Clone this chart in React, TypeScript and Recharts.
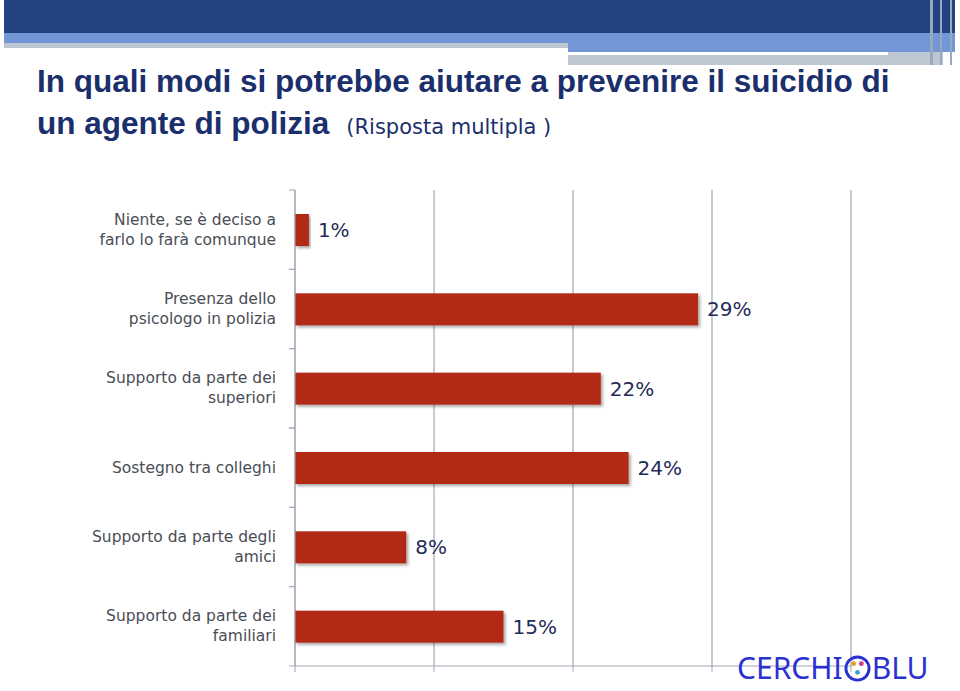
import React from "react"
import { BarChart, Bar, XAxis, YAxis, CartesianGrid, LabelList } from "recharts"

const CATEGORIES = [
	"Niente, se è deciso a\nfarlo lo farà comunque",
	"Presenza dello\npsicologo in polizia",
	"Supporto da parte dei\nsuperiori",
	"Sostegno tra colleghi",
	"Supporto da parte degli\namici",
	"Supporto da parte dei\nfamiliari"
]
const VALUES = [1, 29, 22, 24, 8, 15]
const X_TICKS = [0, 10, 20, 30, 40]

const data = CATEGORIES.map((name, i) => ({ name, value: VALUES[i] }))

const W = 960
const H = 691
const TOP = 190
const BOTTOM = 666
const BAND = (BOTTOM - TOP) / CATEGORIES.length
const AXIS = "#a3a7b4"
const TITLE = "#1a2f6b"

function CategoryTick({ x, y, payload }: any) {
	const lines = String(payload.value).split("\n")
	const lh = 20
	const start = y - ((lines.length - 1) * lh) / 2
	return (
		<g>
			<line x1={x + 2} x2={x + 8} y1={y - BAND / 2} y2={y - BAND / 2} stroke={AXIS} />
			<line x1={x + 2} x2={x + 8} y1={y + BAND / 2} y2={y + BAND / 2} stroke={AXIS} />
			<text x={x - 11} y={start} textAnchor="end" dominantBaseline="central" fill="#4a4d55" fontSize={15.5} fontFamily="'DejaVu Sans', sans-serif">
				{lines.map((l, i) => (
					<tspan key={i} x={x - 11} y={start + i * lh}>{l}</tspan>
				))}
			</text>
		</g>
	)
}

function ShadowBar({ x, y, width, height }: any) {
	return <rect x={x} y={y} width={width} height={height} fill="#b22b18" filter="url(#barShadow)" />
}

function Logo() {
	return (
		<div style={{ position: "absolute", left: 737, top: 652, height: 32, display: "flex", alignItems: "center", color: "#2a30d2", fontFamily: "'Noto Sans', sans-serif", fontSize: 30, lineHeight: "32px", letterSpacing: 0 }}>
			<span>CERCHI</span>
			<svg width={27} height={27} viewBox="0 0 28 28" style={{ margin: "0 1px" }}>
				<circle cx={14} cy={14} r={12} fill="none" stroke="#2a30d2" strokeWidth={3} />
				<circle cx={10} cy={9} r={2.5} fill="#e0a020" />
				<circle cx={18} cy={9} r={2.5} fill="#d23a8a" />
				<circle cx={14} cy={18} r={2.5} fill="#3aa0d0" />
			</svg>
			<span>BLU</span>
		</div>
	)
}

export default function App() {
	return (
		<div style={{ position: "absolute", left: 0, top: 0, width: W, height: H, background: "#fff", overflow: "hidden" }}>
			{/* header bands */}
			<div style={{ position: "absolute", left: 4, top: 0, width: 951, height: 33, background: "#22437f" }} />
			<div style={{ position: "absolute", left: 4, top: 33, width: 951, height: 10, background: "#7396d6" }} />
			<div style={{ position: "absolute", left: 4, top: 43, width: 564, height: 5, background: "#bcc7d2" }} />
			<div style={{ position: "absolute", left: 568, top: 43, width: 387, height: 9, background: "#7396d6" }} />
			<div style={{ position: "absolute", left: 568, top: 55, width: 320, height: 10, background: "#bcc7d2" }} />
			<div style={{ position: "absolute", left: 888, top: 52, width: 55, height: 13, background: "#bcc7d2" }} />
			<div style={{ position: "absolute", left: 930, top: 0, width: 3, height: 65, background: "#9aa8bd" }} />
			<div style={{ position: "absolute", left: 940, top: 0, width: 2, height: 65, background: "#9aa8bd" }} />
			<div style={{ position: "absolute", left: 950, top: 0, width: 2, height: 65, background: "#9aa8bd" }} />

			<div style={{ position: "absolute", left: 37, top: 60, color: TITLE, fontFamily: "'Liberation Sans', Arial, sans-serif", fontWeight: "bold", fontSize: 31.5, lineHeight: "42px", whiteSpace: "nowrap" }}>
				<div>In quali modi si potrebbe aiutare a prevenire il suicidio di</div>
				<div>
					un agente di polizia
					<span style={{ marginLeft: 17, fontWeight: "normal", fontSize: 21, fontFamily: "'DejaVu Sans', sans-serif" }}>(Risposta multipla )</span>
				</div>
			</div>

			<div style={{ position: "absolute", left: 0, top: 0 }}>
				<BarChart
					width={W}
					height={H}
					data={data}
					layout="vertical"
					margin={{ top: TOP, right: 109, bottom: H - BOTTOM - 10, left: 0 }}
					barSize={32}
				>
					<defs>
						<filter id="barShadow" x="-5%" y="-20%" width="115%" height="150%">
							<feDropShadow dx={2} dy={2} stdDeviation={1.5} floodColor="#000" floodOpacity={0.35} />
						</filter>
					</defs>
					<CartesianGrid horizontal={false} stroke={AXIS} strokeWidth={1.2} />
					<XAxis
						type="number"
						domain={[0, 40]}
						ticks={X_TICKS}
						height={10}
						tickFormatter={() => ""}
						stroke={AXIS}
						tickSize={6}
					/>
					<YAxis
						type="category"
						dataKey="name"
						width={295}
						stroke={AXIS}
						tickLine={false}
						tick={<CategoryTick />}
						interval={0}
					/>
					<Bar dataKey="value" isAnimationActive={false} shape={<ShadowBar />}>
						<LabelList
							dataKey="value"
							position="right"
							offset={9}
							formatter={(v: any) => `${v}%`}
							fill="#1f2c58"
							fontSize={20}
							fontFamily="'DejaVu Sans', sans-serif"
						/>
					</Bar>
				</BarChart>
			</div>

			<Logo />
		</div>
	)
}
